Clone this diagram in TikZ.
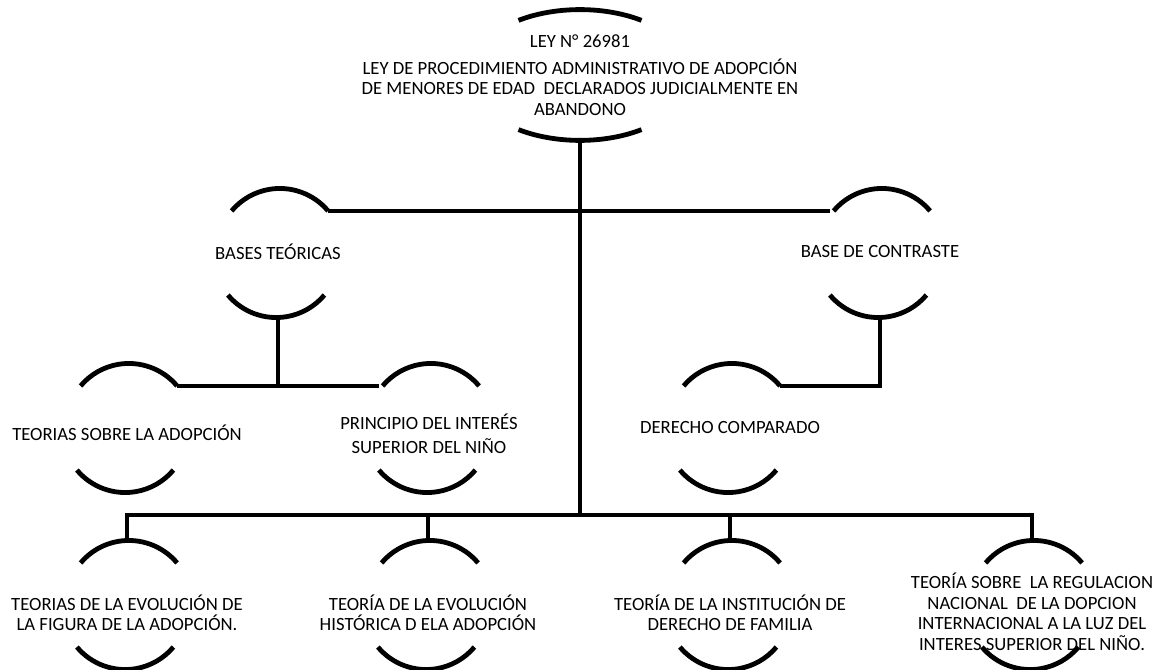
\documentclass[tikz,border=0pt]{standalone}
\usepackage{fontspec}
\setmainfont{Carlito}
\usetikzlibrary{shapes.geometric}

\tikzset{anillo/.style = {circle, minimum size = #1, inner sep = 0pt},
         anillo/.default = 94.5pt,
         raiz/.style = {ellipse, minimum width = 165pt, minimum height = 94.5pt, inner sep = 0pt},
         texto/.style = {align = center, inner sep = 0pt,
                         font = \fontsize{14}{15.4}\selectfont}
        }

\begin{document}
\begin{tikzpicture}[x = 0.75pt, y = 0.75pt, line width = 3.6pt]
  \useasboundingbox (0,0) rectangle (1164,-670);
  % anillos
  \node[raiz] (ley) at (580,-75) {};
  \node[anillo] (bases) at (278,-253) {};
  \node[anillo] (contraste) at (880,-253) {};
  \node[anillo] (sobre) at (127,-428) {};
  \node[anillo] (principio) at (429,-428) {};
  \node[anillo] (derecho) at (730,-428) {};
  \node[anillo] (evol) at (127,-605) {};
  \node[anillo] (hist) at (428,-605) {};
  \node[anillo] (inst) at (730,-605) {};
  \node[anillo] (regul) at (1032,-605) {};
  % textos
  \node[texto] (ley-t) at (580,-75) {LEY N° 26981\\[5pt]
        LEY DE PROCEDIMIENTO ADMINISTRATIVO DE ADOPCIÓN\\
        DE MENORES DE EDAD~ DECLARADOS JUDICIALMENTE EN\\ ABANDONO};
  \node[texto] (bases-t) at (278,-252) {BASES TEÓRICAS};
  \node[texto] (contraste-t) at (880,-252) {BASE DE CONTRASTE};
  \node[texto] (sobre-t) at (127,-433) {TEORIAS SOBRE LA ADOPCIÓN};
  \node[texto] (principio-t) at (429,-434) {PRINCIPIO DEL INTERÉS\\[2.6pt] SUPERIOR DEL NIÑO};
  \node[texto] (derecho-t) at (730,-428) {DERECHO COMPARADO};
  \node[texto] (evol-t) at (127,-613) {TEORIAS DE LA EVOLUCIÓN DE\\ LA FIGURA DE LA ADOPCIÓN.};
  \node[texto] (hist-t) at (428,-613) {TEORÍA DE LA EVOLUCIÓN\\ HISTÓRICA D ELA ADOPCIÓN};
  \node[texto] (inst-t) at (730,-613) {TEORÍA DE LA INSTITUCIÓN DE\\ DERECHO DE FAMILIA};
  \node[texto] (regul-t) at (1032,-612) {TEORÍA SOBRE~ LA REGULACION\\ NACIONAL~ DE LA DOPCION\\
        INTERNACIONAL A LA LUZ DEL\\ INTERES SUPERIOR DEL NIÑO.};
  % arcos
  \foreach \n in {bases, contraste, sobre, principio, derecho, evol, hist, inst, regul}
    {\draw (\n.40) arc[start angle = 40, end angle = 140, radius = 63];
     \draw (\n.220) arc[start angle = 220, end angle = 320, radius = 63];}
  \draw (ley.north) arc[start angle = 90, end angle = 56, x radius = 110, y radius = 63];
  \draw (ley.north) arc[start angle = 90, end angle = 124, x radius = 110, y radius = 63];
  \draw (ley.south) arc[start angle = 270, end angle = 236, x radius = 110, y radius = 63];
  \draw (ley.south) arc[start angle = 270, end angle = 304, x radius = 110, y radius = 63];
  % conectores
  \coordinate (bus) at (580,-515);
  \draw (ley.south) -- (bus);
  \draw (evol.north) |- (bus) -| (regul.north);
  \draw (hist.north) -- (hist.north |- bus);
  \draw (inst.north) -- (inst.north |- bus);
  \draw (bases.40) -- (contraste.140);
  \draw (bases.south) -- (bases.south |- sobre.40);
  \draw (sobre.40) -- (principio.140);
  \draw (contraste.south) |- (derecho.40);
\end{tikzpicture}
\end{document}
